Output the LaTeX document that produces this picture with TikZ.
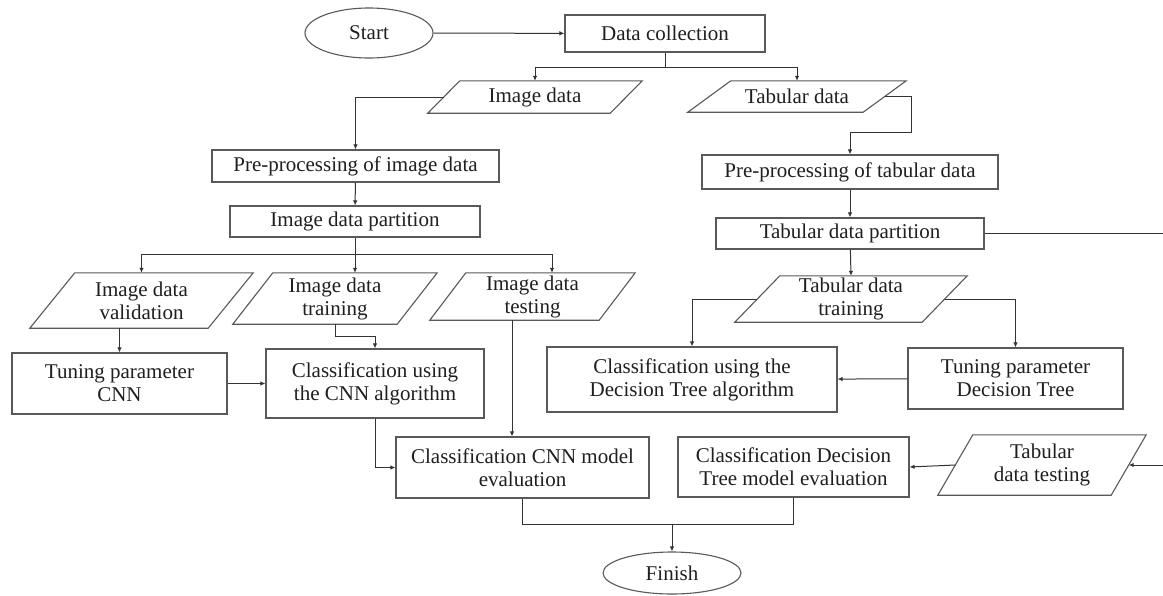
\documentclass[tikz,border=0pt]{standalone}
\usepackage{fontspec}
\setmainfont{Liberation Serif}
\usetikzlibrary{shapes.geometric,arrows.meta,calc}
\begin{document}
\begin{tikzpicture}[x=1pt,y=-1pt,
  every node/.style={font=\fontsize{21}{23}\selectfont, text=black!88, align=center, inner sep=0pt},
  box/.style={draw=black!65, line width=1.1pt, rectangle},
  oval/.style={draw=black!65, line width=1.1pt, ellipse},
  io/.style={rectangle},
  para/.style={draw=black!65, line width=1.1pt, line join=miter},
  conn/.style={draw=black!80, line width=1pt},
  arr/.style={conn, -{Latex[length=5pt,width=4.5pt]}},
]
\path[use as bounding box, fill=white] (0,0) rectangle (1163,595);

% terminals
\node[oval, minimum width=128pt, minimum height=50pt] (start) at (369,33) {Start};
\node[oval, minimum width=138pt, minimum height=42pt] (finish) at (672,573) {Finish};

% process boxes
\node[box, minimum width=200pt, minimum height=37pt] (dc) at (665,33.5) {Data collection};
\node[box, minimum width=287pt, minimum height=32pt] (preimg) at (355.5,166) {Pre-processing of image data};
\node[box, minimum width=250pt, minimum height=31pt] (imgpart) at (355,221.5) {Image data partition};
\node[box, minimum width=215pt, minimum height=61pt] (tuncnn) at (119.5,383.5) {Tuning parameter\\CNN};
\node[box, minimum width=218pt, minimum height=69pt] (clscnn) at (375,383.5) {Classification using\\the CNN algorithm};
\node[box, minimum width=253pt, minimum height=61pt] (cnneval) at (522.5,467.5) {Classification CNN model\\evaluation};
\node[box, minimum width=296pt, minimum height=34pt] (pretab) at (850,172) {Pre-processing of tabular data};
\node[box, minimum width=268pt, minimum height=31pt] (tabpart) at (850,233.5) {Tabular data partition};
\node[box, minimum width=290pt, minimum height=65pt] (clsdt) at (692,379.5) {Classification using the\\Decision Tree algorithm};
\node[box, minimum width=215pt, minimum height=61pt] (tundt) at (1015.5,378.5) {Tuning parameter\\Decision Tree};
\node[box, minimum width=231pt, minimum height=60pt] (dteval) at (793.5,467) {Classification Decision\\Tree model evaluation};

% data (parallelogram) nodes
\node[io, minimum width=214pt, minimum height=32pt] (img) at (535,97) {Image data};
\node[io, minimum width=218pt, minimum height=31pt] (tab) at (797,96.5) {Tabular data};
\node[io, minimum width=223pt, minimum height=55pt] (val) at (141.5,300.5) {Image data\\validation};
\node[io, minimum width=204pt, minimum height=51pt] (trn) at (335,298.5) {Image data\\training};
\node[io, minimum width=205pt, minimum height=47pt] (tst) at (532.5,296.5) {Image data\\testing};
\node[io, minimum width=232pt, minimum height=46pt] (tabtrn) at (851,299) {Tabular data\\training};
\node[io, minimum width=208pt, minimum height=60pt] (tabtst) at (1042,465) {Tabular\\data testing};
\foreach \n/\s in {img/32,tab/43,val/45,trn/40,tst/36,tabtrn/45,tabtst/35}
  \draw[para] ([xshift=\s pt]\n.north west) -- (\n.north east) -- ([xshift=-\s pt]\n.south east) -- (\n.south west) -- cycle;

% connectors
\draw[arr] (start) -- (dc);
\coordinate (dcsplit) at ($(dc.south)+(0,15)$);
\draw[conn] (dc.south) -- (dcsplit);
\draw[arr] (dcsplit) -| (img.north);
\draw[arr] (dcsplit) -| (tab.north);
\draw[arr] ([xshift=16pt]img.west) -| (preimg.north);
\draw[arr] ([xshift=-21.5pt]tab.east) -| ($(pretab.north)+(61,-22)$) -| (pretab.north);
\draw[arr] (preimg) -- (imgpart);
\coordinate (imgsplit) at ($(imgpart.south)+(0,17)$);
\draw[arr] (imgpart.south) -- (imgpart.south |- trn.north);
\draw[arr] (imgsplit) -| (val.north);
\draw[arr] (imgsplit) -| ([xshift=19.5pt]tst.north);
\draw[arr] (tuncnn.north |- val.south) -- (tuncnn.north);
\draw[arr] (trn.south) -- ++(0,12) -| (clscnn.north);
\draw[arr] (tuncnn) -- (clscnn);
\draw[arr] (clscnn.south) |- (cnneval.west);
\draw[arr] ([xshift=-20.5pt]tst.south) -- ([xshift=-10.5pt]cnneval.north);
\draw[arr] (pretab) -- (tabpart);
\draw[arr] (tabpart) -- (tabtrn.north);
\draw[arr] (tabpart.east) -- ++(182,0) |- ([xshift=-17.5pt]tabtst.east);
\draw[arr] ([xshift=22.5pt]tabtrn.west) -| (clsdt.north);
\draw[arr] ([xshift=-22.5pt]tabtrn.east) -| (tundt.north);
\draw[arr] (tundt) -- (clsdt);
\draw[arr] ([xshift=17.5pt]tabtst.west) -- (dteval.east);
\coordinate (join) at ($(finish.north)+(0,-27)$);
\draw[conn] (cnneval.south) |- (join) -| (dteval.south);
\draw[arr] (join) -- (finish.north);
\end{tikzpicture}
\end{document}
